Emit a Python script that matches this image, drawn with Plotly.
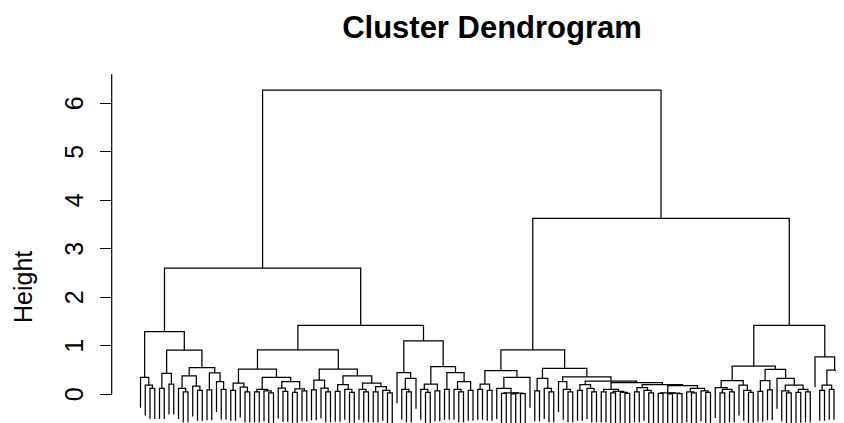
import plotly.graph_objects as go

# ---- dendrogram structure (hclust-style): [merge height, left, right]; 0 = leaf ----
HANG = 0.627  # leaves hang 0.1 * max height below their merge

A1a = [0.35, 0, [0.19, 0, [0.12, 0, 0]]]
A1b_left = [0.43, [0.12, 0, 0], [0.21, 0, 0]]
A1b_q1 = [0.38, [0.12, 0, [0.05, 0, 0]], [0.17, 0, [0.08, 0, 0]]]
A1b_q2 = [0.44, [0.09, 0, 0], [0.26, 0, [0.1, 0, 0]]]
A1 = [1.29, A1a, [0.91, A1b_left, [0.55, A1b_q1, A1b_q2]]]

A2a_l = [0.52,
         [0.23, [0.08, 0, 0], [0.15, 0, [0.05, 0, 0]]],
         [0.35,
          [0.1, [0.05, 0, 0], [0.07, 0, [0.03, 0, 0]]],
          [0.26, [0.13, 0, [0.06, 0, 0]], [0.11, [0.04, 0, 0], [0.07, 0, 0]]]]]
A2a_r = [0.52,
         [0.29, [0.09, 0, 0], [0.13, 0, [0.05, 0, 0]]],
         [0.38,
          [0.2, [0.06, 0, 0], [0.1, 0, [0.04, 0, 0]]],
          [0.23, [0.1, 0, [0.05, 0, 0]],
           [0.16, [0.05, 0, 0], [0.08, 0, [0.03, 0, 0]]]]]]
A2b = [1.10,
       [0.445, 0, [0.33, [0.1, 0, [0.05, 0, 0]], 0]],
       [0.57,
        [0.21, [0.1, 0, [0.04, 0, 0]], [0.07, 0, 0]],
        [0.445, [0.1, 0, 0], [0.26, [0.1, 0, [0.05, 0, 0]], [0.08, 0, 0]]]]]
A2 = [1.42, [0.915, A2a_l, A2a_r], A2b]

B1_left = [0.49,
           [0.21, [0.1, 0, 0], [0.08, 0, 0]],
           [0.35, [0.12, 0, [0.03, [0.02, 0, 0], [0.025, [0.01, 0, 0], [0.015, 0, 0]]]], 0]]
B1_mid = [0.33, [0.07, 0, 0], [0.12, 0, [0.05, 0, 0]]]
B1_c = [0.03, [0.02, 0, 0], [0.025, [0.01, 0, 0], [0.015, 0, 0]]]
B1_d = [0.12, [0.05, 0, [0.03, 0, 0]], [0.07, 0, [0.04, 0, 0]]]
B1_stair = [0.27,
            [0.2, [0.08, 0, 0], [0.12, 0, [0.05, 0, 0]]],
            [0.24,
             [0.1, [0.05, 0, 0], [0.06, [0.03, 0, 0], [0.04, 0, [0.02, 0, 0]]]],
             [0.2, [0.14, [0.05, 0, 0], [0.08, 0, [0.03, 0, 0]]], [0.18, B1_c, B1_d]]]]
B1 = [0.915, B1_left, [0.535, B1_mid, [0.36, [0.26, 0, [0.1, 0, [0.05, 0, 0]]], B1_stair]]]

B2a = [0.58,
       [0.28, [0.14, 0, [0.1, [0.03, 0, 0], [0.05, 0, 0]]], [0.19, 0, [0.08, 0, [0.04, 0, 0]]]],
       [0.515, [0.28, [0.06, 0, 0], [0.09, 0, 0]],
        [0.33, 0, [0.19, [0.07, 0, [0.03, 0, 0]], [0.1, [0.04, 0, 0], [0.05, 0, 0]]]]]]
B2b = [0.77, 0, [0.5, [0.19, [0.08, 0, 0], [0.1, 0, 0]], [0.28, 0, [0.1, 0, 0]]]]
B2 = [1.42, B2a, B2b]

top_heights = [6.27, 2.60, 3.63]  # root, left cluster, right cluster
tree = [top_heights[0], [top_heights[1], A1, A2], [top_heights[2], B1, B2]]

y_ticks = [0, 1, 2, 3, 4, 5, 6]
y_tick_labels = ["0", "1", "2", "3", "4", "5", "6"]
title_text = "Cluster Dendrogram"
ylab_text = "Height"

# ---- compute the dendrogram polylines ----
xs, ys = [], []
counter = [0]


def place(node):
    if node == 0:
        counter[0] += 1
        return counter[0], None
    h, a, b = node
    xa, ha = place(a)
    xb, hb = place(b)
    ha = h - HANG if ha is None else ha
    hb = h - HANG if hb is None else hb
    xs.extend([xa, xa, xb, xb, None])
    ys.extend([ha, h, h, hb, None])
    return (xa + xb) / 2, h


place(tree)

# page body adds an 8px offset; figure sized to fill the rest of the window
W, H = 836, 415
OFF = 8
leaf_px0, leaf_step = 140.5 - OFF, 4.75      # pixel of leaf 1, pixels per leaf
zero_px, unit_px = 394.3 - OFF, 48.5          # pixel of height 0, pixels per unit
x_range = [1 - leaf_px0 / leaf_step, 1 + (W - leaf_px0) / leaf_step]
y_range = [-(H - zero_px) / unit_px, zero_px / unit_px]
axis_px = 111.7 - OFF

fig = go.Figure()
fig.add_trace(go.Scatter(x=xs, y=ys, mode="lines",
                         line=dict(color="black", width=1.25),
                         hoverinfo="skip", showlegend=False))

font_family = "Liberation Sans, Arial, Helvetica, sans-serif"
annotations = [dict(text=ylab_text, xref="paper", yref="paper",
                    x=(23 - OFF) / W, y=1 - (287 - OFF) / H, textangle=-90, showarrow=False,
                    xanchor="center", yanchor="middle",
                    font=dict(family=font_family, size=25, color="black"))]
for v, lab in zip(y_ticks, y_tick_labels):
    annotations.append(dict(text=lab, xref="paper", yref="y",
                            x=(74 - OFF) / W, y=v, textangle=-90, showarrow=False,
                            xanchor="center", yanchor="middle",
                            font=dict(family=font_family, size=25, color="black")))

fig.update_layout(
    width=W, height=H,
    margin=dict(l=0, r=0, t=0, b=0),
    paper_bgcolor="white", plot_bgcolor="white",
    showlegend=False,
    title=dict(text=title_text, x=(492 - OFF) / W, xref="paper", xanchor="center",
               y=1 - (27 - OFF) / H, yref="container", yanchor="middle",
               font=dict(family=font_family, size=31, color="black", weight="bold")),
    xaxis=dict(range=x_range, visible=False, showgrid=False, zeroline=False),
    yaxis=dict(range=y_range, anchor="free", position=axis_px / W,
               showgrid=False, zeroline=False, showline=False,
               tickmode="array", tickvals=y_ticks, showticklabels=False,
               ticks="outside", ticklen=12, tickwidth=1.2, tickcolor="black"),
    shapes=[dict(type="line", xref="paper", yref="y",
                 x0=axis_px / W, x1=axis_px / W, y0=0, y1=6.6,
                 line=dict(color="black", width=1.2))],
    annotations=annotations,
)

fig.write_html("out.html")
